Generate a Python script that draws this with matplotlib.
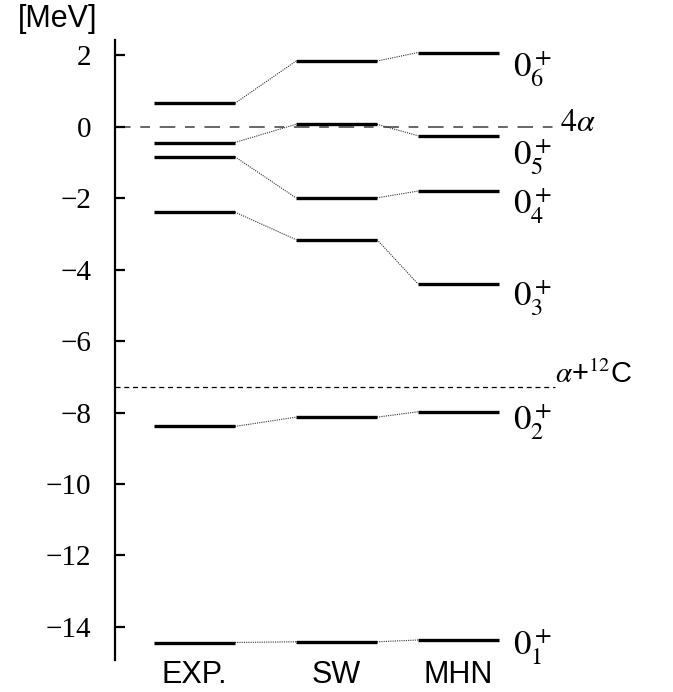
import matplotlib
matplotlib.use("Agg")
import matplotlib.pyplot as plt

# Data (MeV, relative to 4-alpha threshold)
models = ["EXP.", "SW", "MHN"]
exp_levels = [-14.44, -8.39, -2.39, -0.84, -0.44, 0.66]
sw_levels = [-14.42, -8.13, -3.16, -1.99, 0.07, 1.84]
mhn_levels = [-14.37, -7.98, -4.40, -1.80, -0.25, 2.08]
state_labels = [r"$0_1^+$", r"$0_2^+$", r"$0_3^+$", r"$0_4^+$", r"$0_5^+$", r"$0_6^+$"]
thr_4alpha = 0.0
thr_a12c = -7.28
yticks = [2, 0, -2, -4, -6, -8, -10, -12, -14]

plt.rcParams["mathtext.fontset"] = "stix"
plt.rcParams["axes.unicode_minus"] = True

fig = plt.figure(figsize=(6.73, 6.92), dpi=100)
ax = fig.add_axes([115/673, 32/692, 558/673, 620/692])
ax.set_xlim(0, 5.58)
ax.set_ylim(-14.93, 2.43)

centers = [0.795, 2.215, 3.435]
hw = 0.405
series = [exp_levels, sw_levels, mhn_levels]

# threshold lines
ax.plot([0, 4.40], [thr_4alpha, thr_4alpha], color="#666666", lw=1.4,
        dashes=(8, 5, 5, 5), zorder=1)
ax.plot([0, 4.40], [thr_a12c, thr_a12c], color="black", lw=0.9,
        dashes=(4, 3), zorder=1)

# levels
for c, lev in zip(centers, series):
    for v in lev:
        ax.plot([c - hw, c + hw], [v, v], color="black", lw=2.4,
                solid_capstyle="butt", zorder=3)

# connectors
for i in range(len(series) - 1):
    for a, b in zip(series[i], series[i + 1]):
        ax.plot([centers[i] + hw, centers[i + 1] - hw], [a, b],
                color="#333333", lw=0.8, ls=(0, (1, 1)), zorder=2)

# state labels (baseline placed below each MHN level)
offsets = [-0.44, -0.53, -0.64, -0.65, -0.84, -0.69]
for v, lab, off in zip(mhn_levels, state_labels, offsets):
    ax.text(3.98, v + off, lab, fontsize=25, va="baseline", ha="left")

ax.text(4.45, thr_4alpha + 0.12, r"$4\alpha$", fontsize=23, va="center", ha="left")
ax.text(4.40, thr_a12c - 0.06, r"$\alpha$+$^{12}$C", fontsize=21,
        va="bottom", ha="left", family="Liberation Sans")

# category labels
for c, m in zip(centers, models):
    ax.text(c, -15.36, m, fontsize=22, ha="center", va="center",
            family="Liberation Sans", clip_on=False)

# axes styling
for s in ["top", "right", "bottom"]:
    ax.spines[s].set_visible(False)
ax.spines["left"].set_linewidth(1.6)
ax.set_xticks([])
ax.set_yticks(yticks)
ax.set_yticklabels([("\u2212" + str(-t)) if t < 0 else str(t) for t in yticks],
                   family="Liberation Serif", fontsize=21)
ax.tick_params(axis="y", direction="in", length=7, width=1.6, pad=17)

fig.text(58/673, 1 - 19/692, "[MeV]", fontsize=22, ha="center", va="center",
         family="Liberation Sans")

fig.savefig("out.png", dpi=100)
